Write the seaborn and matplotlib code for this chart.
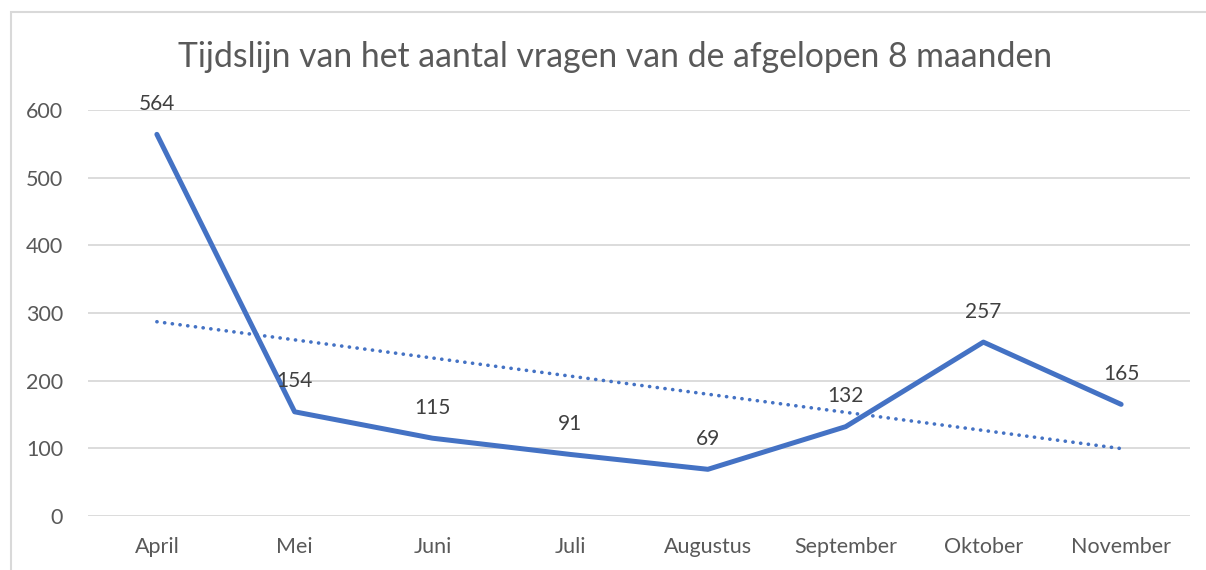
import numpy as np
import pandas as pd
import matplotlib.pyplot as plt
from matplotlib.patches import Rectangle
import seaborn as sns

months = ['April', 'Mei', 'Juni', 'Juli', 'Augustus', 'September', 'Oktober', 'November']
questions = [564, 154, 115, 91, 69, 132, 257, 165]
title = 'Tijdslijn van het aantal vragen van de afgelopen 8 maanden'

df = pd.DataFrame({'pos': range(len(months)), 'maand': months, 'vragen': questions})

# linear trendline, like Excel's
slope, intercept = np.polyfit(df['pos'], df['vragen'], 1)
df['trend'] = intercept + slope * df['pos']

sns.set_style('white')
plt.rcParams['font.family'] = ['Lato', 'DejaVu Sans']

blue = '#4472C4'
grey = '#595959'

fig = plt.figure(figsize=(12.06, 5.70), dpi=100)
ax = fig.add_axes([88 / 1206, 1 - 516 / 570, (1190 - 88) / 1206, (516 - 110) / 570])

sns.lineplot(data=df, x='pos', y='trend', ax=ax, color=blue, lw=2.6,
             linestyle=(0, (0.05, 2.1)), dash_capstyle='round')
sns.lineplot(data=df, x='pos', y='vragen', ax=ax, color=blue, lw=3.6,
             solid_joinstyle='round', solid_capstyle='round')

for x, y in zip(df['pos'], df['vragen']):
    ax.annotate(str(y), (x, y), xytext=(0, 22), textcoords='offset points',
                ha='center', va='center', fontsize=15, color='#404040')

ax.set_xlim(-0.5, len(months) - 0.5)
ax.set_ylim(0, 600)
ax.set_yticks(range(0, 601, 100))
ax.set_xticks(df['pos'])
ax.set_xticklabels(months)
ax.grid(axis='y', color='#D9D9D9', lw=1.3)
ax.set_axisbelow(True)
for s in ax.spines.values():
    s.set_visible(False)
ax.tick_params(length=0, labelsize=15.5, labelcolor=grey, pad=15)
ax.tick_params(axis='y', pad=18)
ax.set_xlabel('')
ax.set_ylabel('')

fig.text(615 / 1206, 1 - 57 / 570, title, ha='center', va='center',
         fontsize=24.3, color=grey)

fig.patches.append(Rectangle((11 / 1206, -0.1), 1.2, 1 - 12 / 570 + 0.1,
                             transform=fig.transFigure, fill=False,
                             edgecolor='#D9D9D9', lw=1.5))

fig.savefig('out.png', dpi=100)
